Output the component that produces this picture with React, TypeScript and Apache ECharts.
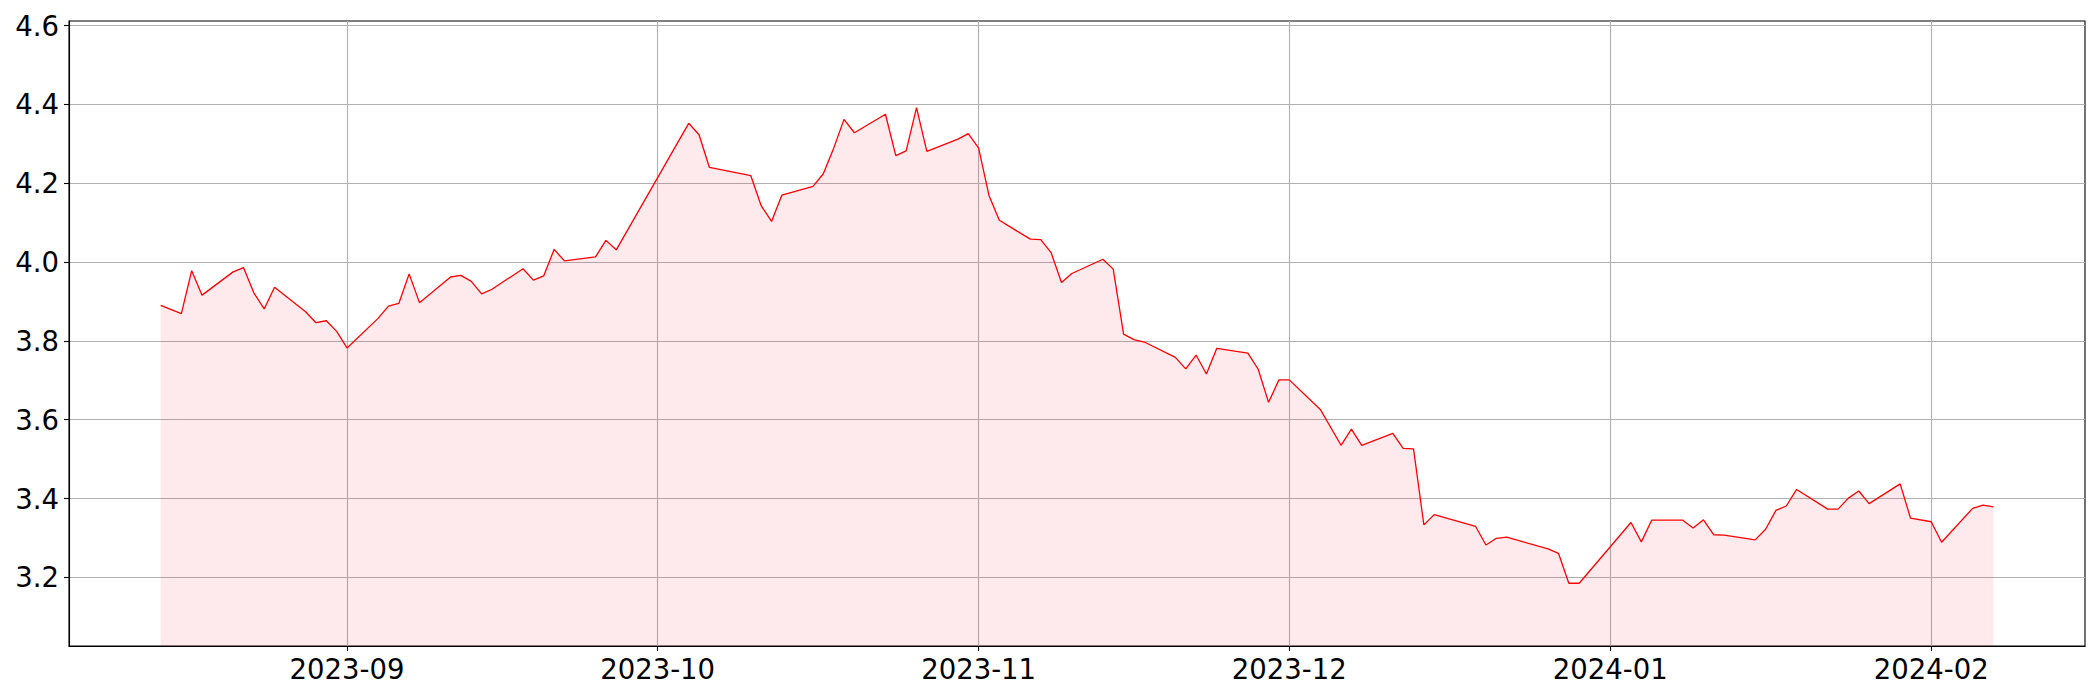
import React, { useEffect, useRef } from 'react';
import * as echarts from 'echarts';

const dates = [
  '2023-08-14', '2023-08-16', '2023-08-17', '2023-08-18', '2023-08-21', '2023-08-22', '2023-08-23', '2023-08-24', '2023-08-25',
  '2023-08-28', '2023-08-29', '2023-08-30', '2023-08-31', '2023-09-01', '2023-09-04', '2023-09-05', '2023-09-06', '2023-09-07',
  '2023-09-08', '2023-09-11', '2023-09-12', '2023-09-13', '2023-09-14', '2023-09-15', '2023-09-18', '2023-09-19', '2023-09-20',
  '2023-09-21', '2023-09-22', '2023-09-25', '2023-09-26', '2023-09-27', '2023-10-04', '2023-10-05', '2023-10-06', '2023-10-10',
  '2023-10-11', '2023-10-12', '2023-10-13', '2023-10-16', '2023-10-17', '2023-10-18', '2023-10-19', '2023-10-20', '2023-10-23',
  '2023-10-24', '2023-10-25', '2023-10-26', '2023-10-27', '2023-10-30', '2023-10-31', '2023-11-01', '2023-11-02', '2023-11-03',
  '2023-11-06', '2023-11-07', '2023-11-08', '2023-11-09', '2023-11-10', '2023-11-13', '2023-11-14', '2023-11-15', '2023-11-16',
  '2023-11-17', '2023-11-20', '2023-11-21', '2023-11-22', '2023-11-23', '2023-11-24', '2023-11-27', '2023-11-28', '2023-11-29',
  '2023-11-30', '2023-12-01', '2023-12-04', '2023-12-06', '2023-12-07', '2023-12-08', '2023-12-11', '2023-12-12', '2023-12-13',
  '2023-12-14', '2023-12-15', '2023-12-19', '2023-12-20', '2023-12-21', '2023-12-22', '2023-12-26', '2023-12-27', '2023-12-28',
  '2023-12-29', '2024-01-03', '2024-01-04', '2024-01-05', '2024-01-08', '2024-01-09', '2024-01-10', '2024-01-11', '2024-01-12',
  '2024-01-15', '2024-01-16', '2024-01-17', '2024-01-18', '2024-01-19', '2024-01-22', '2024-01-23', '2024-01-24', '2024-01-25',
  '2024-01-26', '2024-01-29', '2024-01-30', '2024-02-01', '2024-02-02', '2024-02-05', '2024-02-06', '2024-02-07',
];

const values = [
  3.890, 3.869, 3.978, 3.916, 3.975, 3.986, 3.922, 3.881, 3.936,
  3.874, 3.846, 3.851, 3.824, 3.782, 3.857, 3.888, 3.895, 3.970,
  3.897, 3.962, 3.966, 3.951, 3.919, 3.931, 3.983, 3.954, 3.965,
  4.032, 4.003, 4.013, 4.055, 4.031, 4.352, 4.323, 4.240, 4.219,
  4.143, 4.103, 4.170, 4.192, 4.224, 4.289, 4.362, 4.328, 4.375,
  4.270, 4.282, 4.392, 4.281, 4.312, 4.326, 4.289, 4.169, 4.106,
  4.058, 4.057, 4.024, 3.948, 3.971, 4.007, 3.982, 3.817, 3.803,
  3.797, 3.758, 3.729, 3.764, 3.716, 3.781, 3.769, 3.728, 3.644,
  3.701, 3.701, 3.626, 3.535, 3.576, 3.535, 3.565, 3.527, 3.526,
  3.333, 3.359, 3.329, 3.282, 3.299, 3.302, 3.272, 3.261, 3.185,
  3.185, 3.339, 3.290, 3.345, 3.345, 3.325, 3.346, 3.308, 3.307,
  3.295, 3.322, 3.370, 3.381, 3.423, 3.373, 3.373, 3.401, 3.419,
  3.387, 3.437, 3.350, 3.341, 3.289, 3.375, 3.383, 3.379,
];

const xTickLabels = ['2023-09', '2023-10', '2023-11', '2023-12', '2024-01', '2024-02'];
const yTicks = [3.2, 3.4, 3.6, 3.8, 4.0, 4.2, 4.4, 4.6];

function parseDate(s: string): number {
  const [y, m, d] = s.split('-').map(Number);
  return new Date(y, m - 1, d || 1).getTime();
}

function fmtMonth(v: number): string {
  const d = new Date(v);
  const mm = String(d.getMonth() + 1).padStart(2, '0');
  return `${d.getFullYear()}-${mm}`;
}

export default function App() {
  const ref = useRef<HTMLDivElement>(null);
  useEffect(() => {
    const chart = echarts.init(ref.current!, null, { renderer: 'svg' });
    const t = dates.map(parseDate);
    const t0 = t[0];
    const t1 = t[t.length - 1];
    const pad = (t1 - t0) * 0.05;
    const vmin = Math.min(...values);
    const vmax = Math.max(...values);
    const xTicks = xTickLabels.map(parseDate);
    const labelFont = { fontSize: 27.5, color: '#000', fontFamily: 'DejaVu Sans' };
    chart.setOption({
      animation: false,
      backgroundColor: '#fff',
      grid: {
        left: 69, right: 15, top: 21, bottom: 54,
        show: true, borderColor: '#000', borderWidth: 1.1,
        outerBoundsMode: 'none',
      },
      xAxis: {
        type: 'value',
        min: t0 - pad,
        max: t1 + pad,
        axisLine: { show: true, lineStyle: { color: '#000', width: 1.1 } },
        axisTick: { show: true, customValues: xTicks, length: 5, lineStyle: { color: '#000', width: 1.1 } },
        axisLabel: { ...labelFont, customValues: xTicks, formatter: (v: number) => fmtMonth(v), margin: 9, hideOverlap: false },
        splitLine: { show: true, lineStyle: { color: '#b0b0b0', width: 1.1 } },
      },
      yAxis: {
        type: 'value',
        min: vmin * 0.95,
        max: vmax * 1.05,
        axisLine: { show: true, lineStyle: { color: '#000', width: 1.1 } },
        axisTick: { show: true, customValues: yTicks, length: 5, lineStyle: { color: '#000', width: 1.1 } },
        axisLabel: { ...labelFont, customValues: yTicks, formatter: (v: number) => v.toFixed(1), margin: 10 },
        splitLine: { show: true, lineStyle: { color: '#b0b0b0', width: 1.1 } },
      },
      series: [
        {
          type: 'line',
          data: t.map((x, i) => [x, values[i]]),
          symbol: 'none',
          lineStyle: { color: '#ff0000', width: 1.3 },
          itemStyle: { color: '#ff0000' },
          areaStyle: { color: 'rgba(240,20,40,0.13)', origin: 'start' },
        },
      ],
    });
    return () => chart.dispose();
  }, []);
  return <div ref={ref} style={{ position: 'absolute', left: 0, top: 0, width: 2100, height: 700 }} />;
}
